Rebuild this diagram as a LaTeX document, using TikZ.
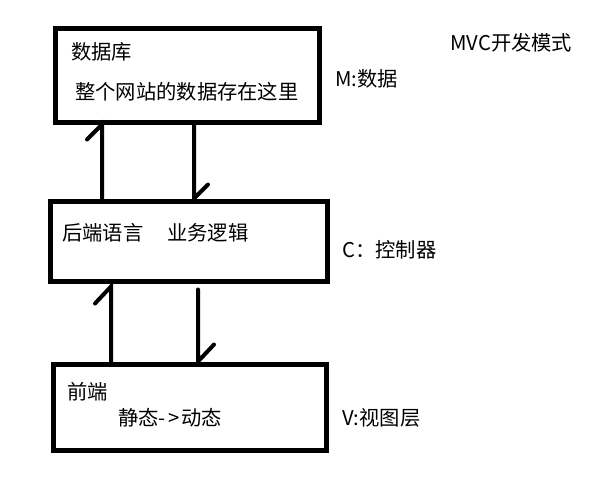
\documentclass[tikz,border=0pt]{standalone}
\usepackage{fontspec}
\setmainfont{Noto Sans CJK SC}
\begin{document}
\begin{tikzpicture}[x=1pt,y=-1pt,
  layer/.style={draw=black, line width=5pt, rectangle, inner sep=0pt},
  label/.style={anchor=west, inner sep=0pt, font=\fontsize{20.3}{23}\selectfont},
  flow/.style={draw=black, line width=4pt, line cap=round, line join=miter}]
\useasboundingbox (0,0) rectangle (593,487);

% the three layers
\node[layer, minimum width=264pt, minimum height=93pt] (db)   at (187,75.5) {};
\node[layer, minimum width=277pt, minimum height=80pt] (ctl)  at (188.5,241) {};
\node[layer, minimum width=273pt, minimum height=86pt] (view) at (189.5,407) {};

% texts inside the layers
\node[label] (dbname) at (71,52)  {数据库};
\node[label] (dbdesc) at (75,92)  {整个网站的数据存在这里};
\node[label] (ctlA)   at (62,233) {后端语言};
\node[label] (ctlB)   at (167,233) {业务逻辑};
\node[label] (viewA)  at (67,392) {前端};
\node[label] (viewB)  at (118,418) {静态-\hspace{3pt}>\hspace{1pt}动态};

% side captions
\node[label] (title) at (450,43)  {MVC开发模式};
\node[label] (capM)  at (335,79)  {M:数据};
\node[label] (capC)  at (342,250) {C：控制器};
\node[label] (capV)  at (342,418) {V:视图层};

% columns of the connectors
\coordinate (up1)   at (102,0);
\coordinate (down1) at (194,0);
\coordinate (up2)   at (111,0);
\coordinate (down2) at (198,0);

% connectors with a single barb
\draw[flow] (ctl.north -| up1) -- (db.south -| up1) -- ++(-15,15);
\draw[flow] (db.south -| down1) -- (ctl.north -| down1) -- ++(14,-14);
\draw[flow] (view.north -| up2) -- ([yshift=-3pt]ctl.south -| up2) -- ++(-16,17);
\draw[flow] ([yshift=-6pt]ctl.south -| down2) -- (view.north -| down2) -- ++(16,-17);
\end{tikzpicture}
\end{document}
